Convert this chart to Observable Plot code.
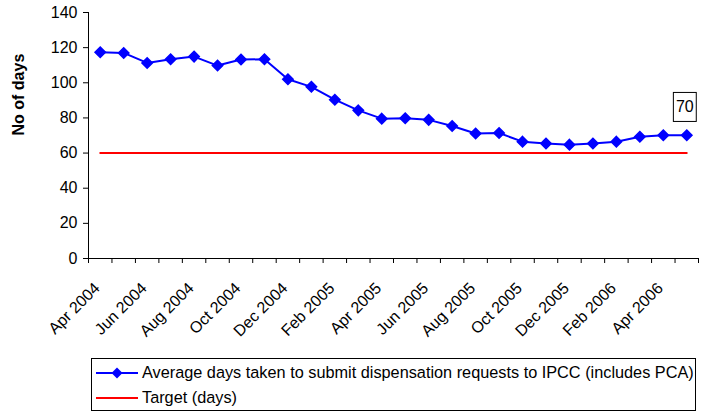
<!DOCTYPE html>
<html>
<head>
<meta charset="utf-8">
<script src="https://cdn.jsdelivr.net/npm/d3@7"></script>
<script src="https://cdn.jsdelivr.net/npm/@observablehq/plot@0.6"></script>
<style>
  html, body { margin: 0; padding: 0; background: #fff; }
  body { width: 710px; height: 412px; position: relative; overflow: hidden; font-family: "Liberation Sans", Arial, sans-serif; }
  #chart { position: absolute; left: 0; top: 0; }
  #legend { position: absolute; left: 91px; top: 358px; width: 605px; height: 53px; box-sizing: border-box;
            border: 1px solid #000; padding-top: 1px; font-size: 16.3px; color: #000; }
  #legend .row { display: flex; align-items: center; height: 25px; padding-left: 4px; white-space: nowrap; }
  #legend svg { flex: none; margin-right: 4px; }
</style>
</head>
<body>
<div id="chart"></div>
<div id="legend"></div>
<script>
const months = ["Apr 2004","May 2004","Jun 2004","Jul 2004","Aug 2004","Sep 2004","Oct 2004","Nov 2004",
  "Dec 2004","Jan 2005","Feb 2005","Mar 2005","Apr 2005","May 2005","Jun 2005","Jul 2005","Aug 2005",
  "Sep 2005","Oct 2005","Nov 2005","Dec 2005","Jan 2006","Feb 2006","Mar 2006","Apr 2006","May 2006"];
const avgDays = [117.4, 117.0, 111.3, 113.4, 114.9, 109.8, 113.2, 113.4, 102.0, 97.7, 90.4, 84.3, 79.6,
  79.8, 78.9, 75.4, 71.1, 71.4, 66.5, 65.5, 64.8, 65.4, 66.5, 69.3, 70.1, 70.1];
const targetDays = 60;
const yTicks = [0, 20, 40, 60, 80, 100, 120, 140];
const xLabelMonths = ["Apr 2004","Jun 2004","Aug 2004","Oct 2004","Dec 2004","Feb 2005","Apr 2005",
  "Jun 2005","Aug 2005","Oct 2005","Dec 2005","Feb 2006","Apr 2006"];
const seriesNames = ["Average days taken to submit dispensation requests to IPCC (includes PCA)", "Target (days)"];
const yTitle = "No of days";
const endLabel = "70";

const n = months.length;
const data = months.map((m, i) => ({i, month: m, avg: avgDays[i], target: targetDays}));
const labelIdx = xLabelMonths.map(m => months.indexOf(m));
const edgeTicks = d3.range(n + 1).map(k => k - 0.5);

const chart = Plot.plot({
  width: 710,
  height: 345,
  marginLeft: 88,
  marginRight: 12,
  marginTop: 12,
  marginBottom: 87,
  style: {fontFamily: "'Liberation Sans', Arial, sans-serif", fontSize: "16px", color: "#000", background: "#fff", overflow: "visible"},
  x: {type: "linear", domain: [-0.5, n - 0.5]},
  y: {domain: [0, 140]},
  marks: [
    Plot.axisY({ticks: yTicks, tickSize: 5, tickPadding: 6, label: null, fontSize: 16}),
    Plot.axisX({ticks: edgeTicks, tickSize: 5, tickFormat: () => "", label: null}),
    Plot.axisX({ticks: labelIdx, tickSize: 0, tickPadding: 0, tickFormat: i => months[i], rotate: -45,
      textAnchor: "end", lineAnchor: "middle", dx: -3, dy: 27, label: null, fontSize: 16}),
    Plot.ruleX([-0.5], {stroke: "#000"}),
    Plot.ruleY([0], {stroke: "#000"}),
    Plot.lineY(data, {x: "i", y: "target", stroke: "#ff0000", strokeWidth: 2}),
    Plot.lineY(data, {x: "i", y: "avg", stroke: "#0000ff", strokeWidth: 2}),
    Plot.dot(data, {x: "i", y: "avg", symbol: "diamond2", r: 4.7, fill: "#0000ff", stroke: "#0000ff"}),
    Plot.text([data[n - 1]], {x: "i", y: "avg", text: () => endLabel, dx: -2, dy: -28, fontSize: 16, fill: "#000"}),
    Plot.text([yTitle], {frameAnchor: "left", rotate: -90, dx: -70, dy: 0, fontWeight: "bold", fontSize: 16, fill: "#000"})
  ]
});
document.getElementById("chart").appendChild(chart);

// box around the end value label
d3.select(chart).selectAll("text")
  .filter(function () { return this.textContent === endLabel && this.parentNode.getAttribute("aria-label") === "text"; })
  .each(function () {
    const b = this.getBBox();
    const cx = b.x + b.width / 2, cy = b.y + b.height / 2;
    const w = b.width + 5, h = 29;
    const t = this.getAttribute("transform");
    const r = d3.select(this.parentNode).insert("rect", () => this)
      .attr("x", cx - w / 2).attr("y", cy - h / 2).attr("width", w).attr("height", h)
      .attr("fill", "#fff").attr("stroke", "#000").attr("stroke-width", 1);
    if (t) r.attr("transform", t);
  });

// legend
const legend = document.getElementById("legend");
const swatches = [
  `<svg width="42" height="12"><line x1="0" y1="6" x2="42" y2="6" stroke="#0000ff" stroke-width="2"/><path d="M21,0.5L26.5,6L21,11.5L15.5,6Z" fill="#0000ff"/></svg>`,
  `<svg width="42" height="12"><line x1="0" y1="6" x2="42" y2="6" stroke="#ff0000" stroke-width="2"/></svg>`
];
seriesNames.forEach((name, k) => {
  const row = document.createElement("div");
  row.className = "row";
  row.innerHTML = swatches[k] + `<span>${name}</span>`;
  legend.appendChild(row);
});
</script>
</body>
</html>
